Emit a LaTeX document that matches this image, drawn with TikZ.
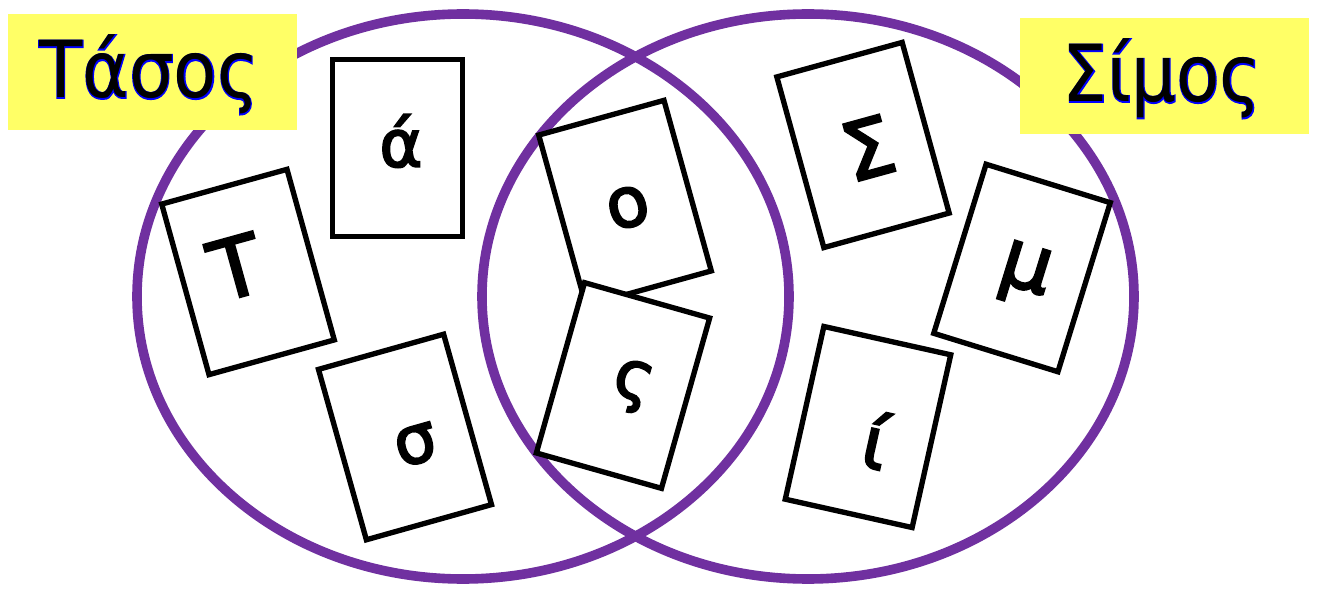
\documentclass[tikz,border=0pt]{standalone}
\usepackage{fontspec}
\usepackage{graphicx}
\setmainfont{DejaVu Sans}
\newfontfamily\cardfont[FakeBold=3]{DejaVu Sans}
\newfontfamily\lblfont{DejaVu Sans}
\newfontfamily\lblfontout[FakeBold=2.5]{DejaVu Sans}
\definecolor{vennpurple}{HTML}{7030A0}
\definecolor{lblyellow}{HTML}{FFFF66}
\definecolor{lblblue}{HTML}{0000FF}
\begin{document}
\begin{tikzpicture}[x=0.75pt,y=-0.75pt,
  venn/.style={draw=vennpurple,line width=7.2pt},
  lblbox/.style={fill=lblyellow,minimum width=216.75pt,minimum height=87pt,inner sep=0pt},
  lbltextout/.style={inner sep=0pt,anchor=base,text=lblblue,font=\lblfontout\fontsize{59}{70}\selectfont},
  lbltext/.style={inner sep=0pt,anchor=base,text=black,font=\lblfont\fontsize{59}{70}\selectfont},
  card/.style={draw=black,fill=white,line width=4pt,minimum width=97.5pt,minimum height=132.75pt,inner sep=0pt},
  cardletter/.style={inner sep=0pt,text=black},
]
\useasboundingbox (0,0) rectangle (1317,591);
\fill[white] (0,0) rectangle (1317,591);
% circles
\draw[venn] (463,296.5) ellipse [x radius=326, y radius=282.5];
\draw[venn] (808,296.5) ellipse [x radius=326, y radius=282.5];
% label boxes
\node[lblbox] (tasosbox) at (152.5,72) {};
\node[lblbox] (simosbox) at (1164,76) {};
\node[lbltextout] (tasosout) at (149,98) {\scalebox{0.9}[1]{Τάσος}};
\node[lbltext] (tasos) at (149,98) {\scalebox{0.9}[1]{Τάσος}};
\node[lbltextout] (simosout) at (1162,102) {\scalebox{0.9}[1]{Σίμος}};
\node[lbltext] (simos) at (1162,102) {\scalebox{0.9}[1]{Σίμος}};
% cards
\node[card,rotate=15.5] (cT) at (248,272) {};
\node[card] (cA) at (397.5,148) {};
\node[card,rotate=15.7] (cSig) at (405,437) {};
\node[card,rotate=15.5] (cO) at (625,203) {};
\node[card,rotate=-15.8] (cFs) at (623,385.5) {};
\node[card,rotate=15.4] (cCapS) at (863,145) {};
\node[card,rotate=-17.2] (cMu) at (1022,268) {};
\node[card,rotate=-12.6] (cI) at (868,427) {};
% letters
\node[cardletter,rotate=15.5,font=\cardfont\fontsize{61.5}{70}\selectfont] (lT) at (236,267) {Τ};
\node[cardletter,font=\cardfont\fontsize{49}{50}\selectfont] (lA) at (401,141) {ά};
\node[cardletter,rotate=15.7,font=\cardfont\fontsize{50}{50}\selectfont] (lSig) at (416,445) {σ};
\node[cardletter,rotate=15.5,font=\cardfont\fontsize{52}{50}\selectfont] (lO) at (628,207.5) {ο};
\node[cardletter,rotate=-15.8,font=\cardfont\fontsize{50}{50}\selectfont] (lFs) at (632,386.5) {ς};
\node[cardletter,rotate=15.4,font=\cardfont\fontsize{60}{70}\selectfont] (lCapS) at (868,148) {Σ};
\node[cardletter,rotate=-17.2,font=\cardfont\fontsize{60}{60}\selectfont] (lMu) at (1024,275) {μ};
\node[cardletter,rotate=-12.6,font=\cardfont\fontsize{54}{50}\selectfont] (lI) at (876,440) {ί};
\end{tikzpicture}
\end{document}
